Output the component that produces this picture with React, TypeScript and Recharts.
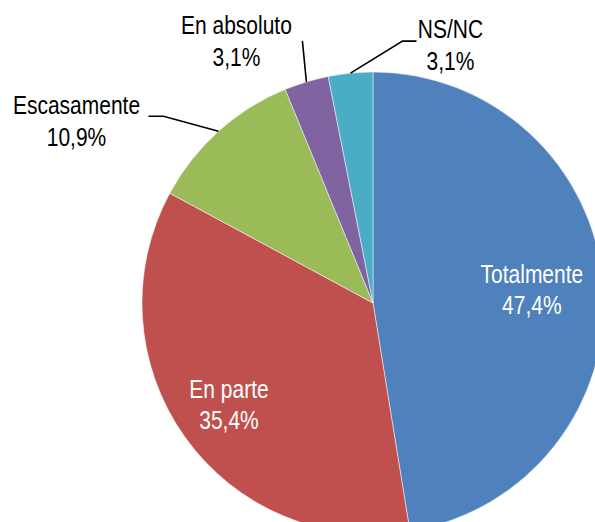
import React from 'react';
import { PieChart, Pie, Cell } from 'recharts';

const categories = ['Totalmente', 'En parte', 'Escasamente', 'En absoluto', 'NS/NC'];
const values = [47.4, 35.4, 10.9, 3.1, 3.1];
const colors = ['#4F81BD', '#C0504D', '#9BBB59', '#8064A2', '#4BACC6'];

const FONT = "'Liberation Sans', Arial, sans-serif";
const NARROW = 0.84; // simula Arial Narrow
const RADIAN = Math.PI / 180;

// etiquetas dentro del sector: fracción del radio
const insideLabels: Record<string, number> = {
  'Totalmente': 0.69,
  'En parte': 0.765,
};

// etiquetas fuera: desplazamientos desde el borde del sector
const outsideLabels: Record<string, { line: number[][]; tx: number; ty: number }> = {
  'Escasamente': { line: [[-55, -15], [-70, -15]], tx: -142, ty: -17 },
  'En absoluto': { line: [[-4, -41]], tx: -70, ty: -48 },
  'NS/NC': { line: [[52, -32], [66, -32]], tx: 100, ty: -35 },
};

const fmt = (v: number) => v.toFixed(1).replace('.', ',') + '%';

const NarrowText = ({ x, y, fill, children }: any) => (
  <text
    transform={`translate(${x},${y}) scale(${NARROW},1)`}
    x={0}
    y={0}
    fill={fill}
    textAnchor="middle"
    fontSize={25}
    fontFamily={FONT}
  >
    {children}
  </text>
);

const renderLabel = ({ cx, cy, midAngle, outerRadius, index }: any) => {
  const name = categories[index];
  const text = fmt(values[index]);
  const cos = Math.cos(-midAngle * RADIAN);
  const sin = Math.sin(-midAngle * RADIAN);

  if (insideLabels[name] !== undefined) {
    const r = outerRadius * insideLabels[name];
    const x = cx + r * cos;
    const y = cy + r * sin;
    return (
      <g key={`lbl-${index}`}>
        <NarrowText x={x} y={y - 7} fill="#fff">{name}</NarrowText>
        <NarrowText x={x} y={y + 24} fill="#fff">{text}</NarrowText>
      </g>
    );
  }

  const cfg = outsideLabels[name];
  const ex = cx + outerRadius * cos;
  const ey = cy + outerRadius * sin;
  const pts = [[ex, ey], ...cfg.line.map(([dx, dy]) => [ex + dx, ey + dy])];
  return (
    <g key={`lbl-${index}`}>
      <polyline
        points={pts.map((p) => p.join(',')).join(' ')}
        fill="none"
        stroke="#000"
        strokeWidth={1.6}
      />
      <NarrowText x={ex + cfg.tx} y={ey + cfg.ty} fill="#000">{name}</NarrowText>
      <NarrowText x={ex + cfg.tx} y={ey + cfg.ty + 32} fill="#000">{text}</NarrowText>
    </g>
  );
};

export default function App() {
  const data = categories.map((name, i) => ({ name, value: values[i] }));
  return (
    <div
      style={{
        position: 'absolute',
        left: 0,
        top: 0,
        width: 595,
        height: 522,
        overflow: 'hidden',
        background: '#fff',
      }}
    >
      <PieChart width={595} height={522} margin={{ top: 0, right: 0, bottom: 0, left: 0 }}>
        <Pie
          data={data}
          dataKey="value"
          nameKey="name"
          cx={373}
          cy={303}
          outerRadius={231}
          startAngle={90}
          endAngle={-270}
          stroke="#fff"
          strokeWidth={0.5}
          labelLine={false}
          label={renderLabel}
          isAnimationActive={false}
        >
          {data.map((entry, i) => (
            <Cell key={`cell-${i}`} fill={colors[i]} />
          ))}
        </Pie>
      </PieChart>
    </div>
  );
}
